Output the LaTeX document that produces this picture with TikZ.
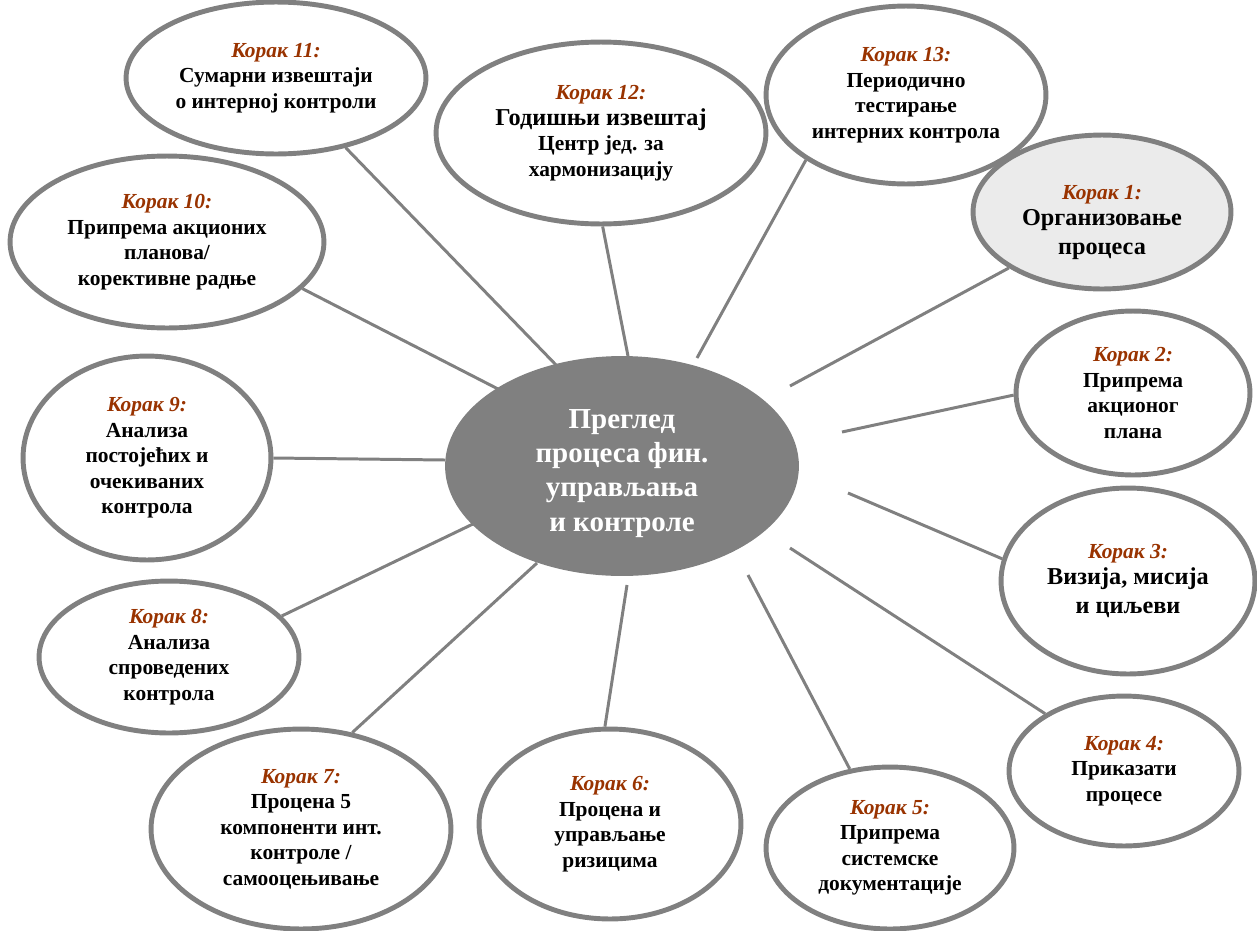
\documentclass[tikz,border=0pt]{standalone}
\usepackage{fontspec}
\setmainfont{Liberation Serif}
\usetikzlibrary{shapes.geometric}

\definecolor{stepbrown}{RGB}{153,51,0}
\definecolor{linegray}{RGB}{128,128,128}
\definecolor{firstfill}{RGB}{235,235,235}
\newcommand{\korak}[1]{{\color{stepbrown}\itshape Корак #1:}\\}
\newcommand{\bigline}[1]{{\fontsize{13.8}{16.5}\selectfont #1}}

\begin{document}
\begin{tikzpicture}[x=0.02cm,y=-0.02cm,
  bubble/.style={ellipse,draw=linegray,line width=2.8pt,fill=white,inner sep=0pt,
    align=center,font=\bfseries\fontsize{12.2}{14.5}\selectfont},
  radii/.style 2 args={minimum width=#1*0.04cm,minimum height=#2*0.04cm},
  link/.style={draw=linegray,line width=1.7pt}]
\useasboundingbox (0,0) rectangle (1257,930);

% central bubble
\node[ellipse,fill=linegray,inner sep=0pt,radii={177}{110},align=center,
  text=white,font=\bfseries\fontsize{16.5}{19.5}\selectfont] (center) at (622,466)
  {\rule{0pt}{19pt}Преглед\\процеса фин.\\управљања\\и контроле};

% steps around it
\node[bubble,radii={129}{77},fill=firstfill] (s1) at (1102,212)
  {\rule{0pt}{20pt}\korak{1}\bigline{Организовање}\\[2pt]\bigline{процеса}};
\node[bubble,radii={117}{82}] (s2) at (1133,393)
  {\korak{2}Припрема\\акционог\\плана};
\node[bubble,radii={127}{93}] (s3) at (1128,581)
  {\korak{3}\bigline{Визија, мисија}\\[2pt]\bigline{и циљеви}};
\node[bubble,radii={115}{75}] (s4) at (1124,771)
  {\korak{4}Приказати\\процесе};
\node[bubble,radii={124}{81}] (s5) at (890,848)
  {\korak{5}Припрема\\системске\\документације};
\node[bubble,radii={131}{95}] (s6) at (610,824)
  {\korak{6}Процена и\\управљање\\ризицима};
\node[bubble,radii={150}{100}] (s7) at (301,829)
  {\korak{7}Процена 5\\компоненти инт.\\контроле /\\самооцењивање};
\node[bubble,radii={130}{76}] (s8) at (169,657)
  {\korak{8}Анализа\\спроведених\\контрола};
\node[bubble,radii={124}{102}] (s9) at (147,458)
  {\korak{9}Анализа\\постојећих и\\очекиваних\\контрола};
\node[bubble,radii={157}{86}] (s10) at (167,242)
  {\korak{10}Припрема акционих\\планова/\\корективне радње};
\node[bubble,radii={150}{76}] (s11) at (276,78)
  {\korak{11}Сумарни извештаји\\о интерној контроли};
\node[bubble,radii={165}{91}] (s12) at (601,133)
  {\korak{12}\bigline{Годишњи извештај}\\Центр јед. за\\хармонизацију};
\node[bubble,radii={140}{89}] (s13) at (906,95)
  {\korak{13}Периодично\\тестирање\\интерних контрола};

% inner ends of the spokes
\coordinate (e1) at (790,386);
\coordinate (e2) at (842,432);
\coordinate (e3) at (848,493);
\coordinate (e4) at (790,548);
\coordinate (e5) at (748,575);
\coordinate (e6) at (627,585);
\coordinate (e7) at (537,563);
\coordinate (e8) at (475,523);
\coordinate (e9) at (445,460);
\coordinate (e10) at (500,390);
\coordinate (e11) at (558,367);
\coordinate (e12) at (628,356);
\coordinate (e13) at (697,358);

% spokes
\foreach \s/\a in {1/211,2/181,3/170,4/144,5/117,6/93,7/62,8/20,9/0,10/-19,11/-45,12/-89,13/-147}
  \draw[link] (s\s.\a) -- (e\s);
\end{tikzpicture}
\end{document}
